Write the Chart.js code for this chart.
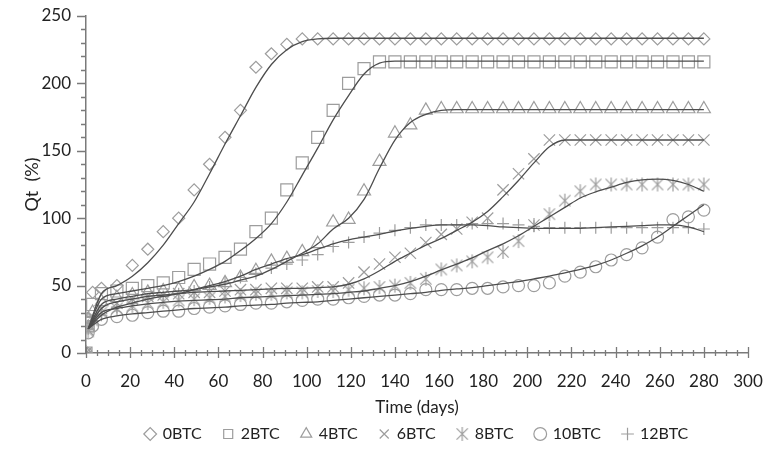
<!DOCTYPE html>
<html>
<head>
<meta charset="UTF-8" />
<title>Qt vs time</title>
<style>
  body { margin: 0; padding: 0; background: #fff; }
  #wrap { width: 768px; height: 450px; position: relative; }
</style>
</head>
<body>
<div id="wrap"><canvas id="chart"></canvas></div>

<script src="https://cdn.jsdelivr.net/npm/chart.js"></script>
<script>
  // sampling days of the measured points
  const days = [0, 1, 3, 7, 14, 21, 28, 35, 42, 49, 56, 63, 70, 77, 84, 91, 98, 105, 112, 119, 126, 133, 140,
    147, 154, 161, 168, 175, 182, 189, 196, 203, 210, 217, 224, 231, 238, 245, 252, 259, 266, 273, 280];

  const seriesNames = ['0BTC', '2BTC', '4BTC', '6BTC', '8BTC', '10BTC', '12BTC'];

  // measured Qt (%)
  const q0 = [0, 26, 45, 48, 50, 65, 77, 90, 100, 121, 140, 160, 180, 212, 222, 229, 233, 233, 233, 233, 233, 233, 233,
    233, 233, 233, 233, 233, 233, 233, 233, 233, 233, 233, 233, 233, 233, 233, 233, 233, 233, 233, 233];
  const q2 = [0, 22, 36, 44, 46, 48, 50, 52, 56, 62, 66, 71, 77, 90, 100, 121, 141, 160, 180, 200, 211, 216, 216,
    216, 216, 216, 216, 216, 216, 216, 216, 216, 216, 216, 216, 216, 216, 216, 216, 216, 216, 216, 216];
  const q4 = [0, 19, 30, 38, 41, 43, 45, 46, 47, 49, 50, 52, 56, 61, 68, 70, 75, 81, 97, 99, 120, 142, 163,
    169, 180, 181, 181, 181, 181, 181, 181, 181, 181, 181, 181, 181, 181, 181, 181, 181, 181, 181, 181];
  const q6 = [0, 17, 26, 33, 37, 40, 42, 43, 44, 45, 45, 46, 47, 47, 48, 48, 48, 49, 49, 52, 60, 66, 71,
    74, 82, 88, 92, 97, 100, 121, 133, 144, 158, 158, 158, 158, 158, 158, 158, 158, 158, 158, 158];
  const q8 = [0, 16, 24, 30, 33, 35, 37, 38, 39, 40, 41, 42, 43, 44, 44, 45, 45, 46, 46, 47, 48, 49, 50,
    52, 55, 62, 65, 68, 71, 75, 83, 95, 103, 113, 120, 125, 125, 125, 125, 125, 125, 125, 125];
  const q10 = [0, 15, 20, 25, 27, 28, 30, 31, 31, 33, 34, 35, 36, 37, 37, 38, 39, 40, 40, 41, 42, 43, 43,
    44, 47, 47, 47, 48, 48, 49, 50, 50, 52, 57, 60, 64, 69, 73, 78, 86, 99, 101, 106];
  const q12 = [0, 18, 24, 28, 34, 37, 40, 42, 44, 46, 49, 52, 56, 59, 63, 66, 69, 73, 79, 82, 86, 89, 91,
    93, 95, 95, 95, 96, 96, 96, 95, 94, 93, 93, 93, 93, 93, 93, 93, 93, 93, 93, 92];

  // fitted curves, read at these days
  const fitDays = [1, 7, 14, 21, 28, 35, 42, 49, 56, 63, 70, 77, 84, 91, 98, 105, 112, 119, 126, 133, 140,
    147, 154, 161, 168, 175, 182, 189, 196, 203, 210, 217, 224, 231, 238, 245, 252, 259, 266, 273, 280];
  const fit0 = [18, 44, 50, 57, 67, 80, 96, 112, 133, 155, 176, 197, 214, 225, 231, 233, 233.5, 233.5, 233.5, 233.5, 233.5,
    233.5, 233.5, 233.5, 233.5, 233.5, 233.5, 233.5, 233.5, 233.5, 233.5, 233.5, 233.5, 233.5, 233.5, 233.5, 233.5, 233.5, 233.5, 233.5, 233.5];
  const fit2 = [18, 40, 44, 46, 48, 50, 53, 57, 62, 68, 76, 85, 96, 112, 132, 152, 173, 191, 207, 215, 216.5,
    216.5, 216.5, 216.5, 216.5, 216.5, 216.5, 216.5, 216.5, 216.5, 216.5, 216.5, 216.5, 216.5, 216.5, 216.5, 216.5, 216.5, 216.5, 216.5, 216.5];
  const fit4 = [18, 36, 40, 42, 44, 45, 46, 47, 49, 51, 54, 57, 62, 68, 74, 81, 92, 100, 114, 137, 158,
    171, 177, 180, 180.5, 180.5, 180.5, 180.5, 180.5, 180.5, 180.5, 180.5, 180.5, 180.5, 180.5, 180.5, 180.5, 180.5, 180.5, 180.5, 180.5];
  const fit6 = [18, 33, 38, 40, 42, 43, 44, 45, 45.5, 46, 46.5, 47, 47.5, 48, 48, 48.5, 49, 51, 55, 61, 68,
    74, 80, 85, 91, 97, 105, 116, 128, 141, 153, 158, 158, 158, 158, 158, 158, 158, 158, 158, 158];
  const fit8 = [18, 30, 33, 35, 36.5, 37.5, 38.5, 39, 39.5, 40, 41, 41.5, 42, 42.5, 43, 43.5, 44, 45, 46, 48, 50,
    53, 57, 61.6, 66, 70.5, 76, 81, 87, 94, 101, 108, 115, 119.5, 123, 126.5, 128.5, 129, 128, 125, 120];
  const fit10 = [18, 25, 27.5, 29, 30, 31, 32, 33, 33.5, 34, 35, 35.5, 36, 37, 37.5, 38, 39, 40, 41, 42, 43,
    44, 45, 46.5, 47.5, 48.5, 50, 51.5, 53, 55, 57, 59.5, 62, 65, 69, 74, 79.5, 86, 94, 102, 110];
  const fit12 = [18, 28, 34, 37, 40, 42, 44, 47, 50, 53, 57, 62, 66, 70, 73, 77, 81, 84, 86, 88, 90.5,
    92.5, 94, 95, 95, 95, 94.5, 93.5, 93, 92.5, 92.5, 92.5, 92.5, 93, 93.5, 94, 94.5, 95, 95, 93.5, 90];

  const xTicks = [0, 300, 20];
  const yTicks = [0, 250, 50];

  const MARK = '#9d9d9d';
  const LINE = '#4d4d4d';
  const AXIS = '#7a7a7a';
  const FONT = 'Lato, "Open Sans", sans-serif';

  // asterisk marker (x with a vertical bar), like the spreadsheet one
  function asterisk(r) {
    const c = document.createElement('canvas');
    c.width = c.height = r * 2 + 2;
    const g = c.getContext('2d');
    const m = r + 1, d = r * 0.8;
    g.strokeStyle = MARK;
    g.lineWidth = 1.2;
    g.beginPath();
    g.moveTo(m - d, m - d); g.lineTo(m + d, m + d);
    g.moveTo(m + d, m - d); g.lineTo(m - d, m + d);
    g.moveTo(m, m - r); g.lineTo(m, m + r);
    g.stroke();
    return c;
  }

  const styles = [
    { style: 'rectRot', r: 6 },
    { style: 'rect', r: 8.5 },
    { style: 'triangle', r: 7.5 },
    { style: 'crossRot', r: 8 },
    { style: asterisk(7), r: 7 },
    { style: 'circle', r: 6 },
    { style: 'cross', r: 6 }
  ];
  const measured = [q0, q2, q4, q6, q8, q10, q12];
  const fits = [fit0, fit2, fit4, fit6, fit8, fit10, fit12];

  const datasets = [];
  measured.forEach((vals, i) => {
    datasets.push({
      label: seriesNames[i],
      data: days.map((d, k) => ({ x: d, y: vals[k] })),
      showLine: false,
      pointStyle: styles[i].style,
      pointRadius: styles[i].r,
      pointHoverRadius: styles[i].r,
      borderColor: MARK,
      backgroundColor: 'rgba(0,0,0,0)',
      pointBorderWidth: 1.2,
      borderWidth: 1.2,
      order: 1
    });
  });
  fits.forEach((vals, i) => {
    datasets.push({
      label: 'fit ' + seriesNames[i],
      data: fitDays.map((d, k) => ({ x: d, y: vals[k] })),
      showLine: true,
      pointRadius: 0,
      borderColor: LINE,
      borderWidth: 1.3,
      cubicInterpolationMode: 'monotone',
      fill: false,
      order: 0
    });
  });

  // minor/major tick marks drawn on the axes
  const tickMarks = {
    id: 'tickMarks',
    afterDraw(chart) {
      const { ctx, scales: { x, y } } = chart;
      const x0 = x.getPixelForValue(0);
      const y0 = y.getPixelForValue(0);
      ctx.save();
      ctx.strokeStyle = AXIS;
      ctx.lineWidth = 1.3;
      ctx.beginPath();
      for (let v = xTicks[0]; v <= xTicks[1]; v += 5) {
        const px = Math.round(x.getPixelForValue(v)) + 0.5;
        const major = v % xTicks[2] === 0;
        ctx.moveTo(px, y0 - (major ? 6 : 3));
        ctx.lineTo(px, y0 + (major ? 5 : 3));
      }
      for (let v = yTicks[0]; v <= yTicks[1]; v += 10) {
        const py = Math.round(y.getPixelForValue(v)) + 0.5;
        const major = v % yTicks[2] === 0;
        ctx.moveTo(x0 - (major ? 9 : 5), py);
        ctx.lineTo(x0, py);
      }
      ctx.stroke();
      ctx.restore();
    }
  };

  Chart.defaults.font.family = FONT;
  Chart.defaults.color = '#222';

  new Chart(document.getElementById('chart'), {
    type: 'scatter',
    data: { datasets },
    options: {
      responsive: true,
      maintainAspectRatio: false,
      animation: false,
      layout: { padding: { top: 16, right: 20, left: 0, bottom: 0 } },
      scales: {
        x: {
          type: 'linear',
          min: xTicks[0], max: xTicks[1],
          ticks: { stepSize: xTicks[2], padding: 18, font: { size: 17 }, color: '#222' },
          grid: { display: false, drawTicks: false },
          border: { display: true, color: AXIS, width: 1.5 },
          title: { display: true, text: 'Time (days)', font: { size: 17 }, color: '#222', padding: { top: 0, bottom: -14 } },
          afterFit(s) { s.height = 51; s.paddingLeft = 0; s.paddingRight = 0; }
        },
        y: {
          type: 'linear',
          min: yTicks[0], max: yTicks[1],
          ticks: { stepSize: yTicks[2], padding: 15, font: { size: 17 }, color: '#222' },
          grid: { display: false, drawTicks: false },
          border: { display: true, color: AXIS, width: 1.5 },
          title: { display: true, text: 'Qt  (%)', font: { size: 18 }, color: '#222', padding: { top: 21, bottom: 0 } },
          afterFit(s) { s.width = 86; s.paddingTop = 0; s.paddingBottom = 0; }
        }
      },
      plugins: {
        legend: {
          position: 'bottom',
          fullSize: false,
          maxHeight: 46,
          labels: {
            usePointStyle: true,
            boxWidth: 9,
            boxHeight: 9,
            padding: 22,
            font: { size: 16 },
            color: '#222',
            filter: item => !item.text.startsWith('fit')
          }
        },
        tooltip: { enabled: false }
      }
    },
    plugins: [tickMarks]
  });
</script>
</body>
</html>
